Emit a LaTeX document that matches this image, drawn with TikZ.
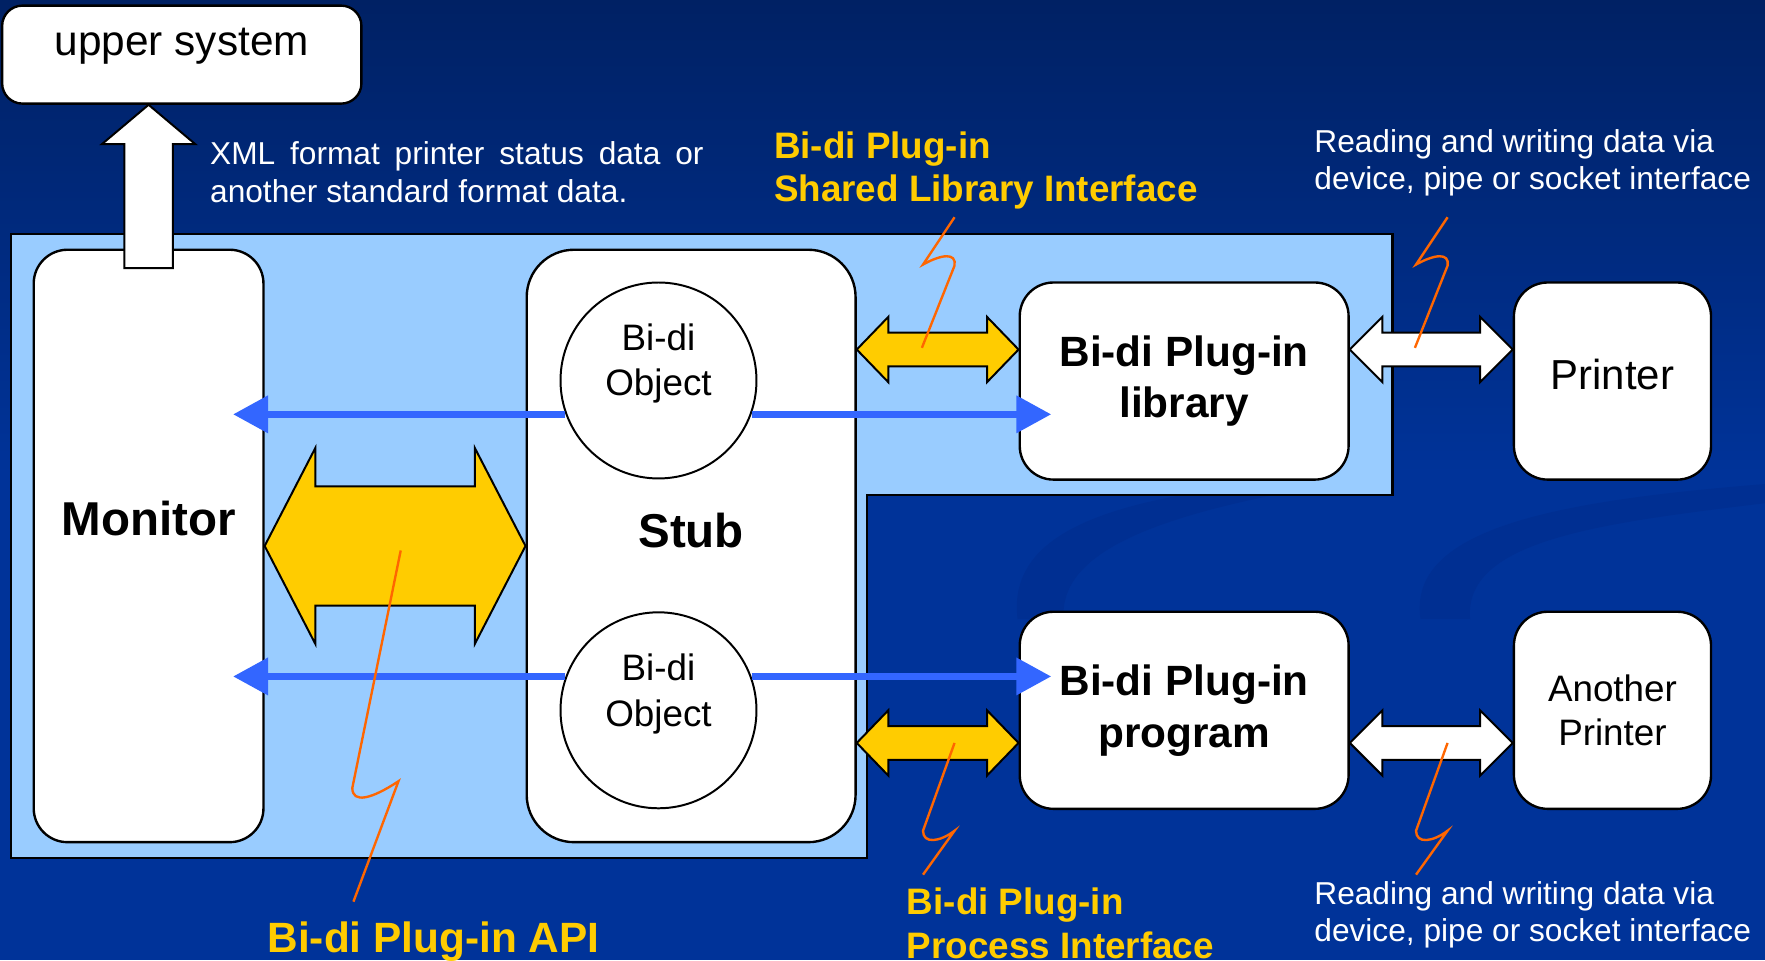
\documentclass[tikz,border=0pt]{standalone}
\usepackage{fontspec}
\setmainfont{Liberation Sans}
\usetikzlibrary{calc,arrows.meta}
\definecolor{bgtop}{RGB}{0,33,100}
\definecolor{bgbot}{RGB}{0,51,153}
\definecolor{swoosh}{RGB}{0,47,146}
\definecolor{panel}{RGB}{153,204,255}
\definecolor{gold}{RGB}{255,204,0}
\definecolor{flowblue}{RGB}{51,102,255}
\definecolor{leader}{RGB}{255,102,0}

\newcommand{\dblarrow}[6]{%
  \draw[#1] (#2) -- ($(#2)+(#4,-#5)$) -- ($(#2)+(#4,-#6)$) -- ($(#3)+(-#4,-#6)$)
    -- ($(#3)+(-#4,-#5)$) -- (#3) -- ($(#3)+(-#4,#5)$) -- ($(#3)+(-#4,#6)$)
    -- ($(#2)+(#4,#6)$) -- ($(#2)+(#4,#5)$) -- cycle;}

\begin{document}
\begin{tikzpicture}[x=0.01cm, y=-0.01cm,
    box/.style={draw=black, fill=white, line width=0.6pt, rounded corners=0.3cm, inner sep=0pt},
    obj/.style={circle, draw=black, fill=white, line width=0.5pt, minimum size=1.74cm, inner sep=0pt},
    flow/.style={draw=flowblue, line width=0.06cm, -{Triangle[length=0.31cm,width=0.32cm]}},
    goldarrow/.style={fill=gold, draw=black, line width=0.5pt},
    whitearrow/.style={fill=white, draw=black, line width=0.5pt},
    leaderline/.style={draw=leader, line width=0.6pt},
    note/.style={white, font=\fontsize{8}{9.5}\selectfont, inner sep=0pt, anchor=north west, align=left},
    tag/.style={gold, font=\bfseries\fontsize{9.3}{11}\selectfont, inner sep=0pt, anchor=north west, align=left}]
  \useasboundingbox (0,0) rectangle (1568,853);
  \clip (0,0) rectangle (1568,853);
  \shade[top color=bgtop, bottom color=bgbot] (0,0) rectangle (1568,420);
  \fill[bgbot] (0,419) rectangle (1568,853);
  \fill[swoosh] (904,550) .. controls (896,485) and (960,455) .. (1060,438) -- (1140,438)
    .. controls (1030,460) and (940,490) .. (945,550) -- cycle;
  \fill[swoosh] (1262,550) .. controls (1250,470) and (1380,445) .. (1568,430) -- (1568,447)
    .. controls (1420,465) and (1300,480) .. (1306,550) -- cycle;

  \draw[fill=panel, line width=0.6pt] (10,208) -- (1237,208) -- (1237,440) -- (770,440) -- (770,762) -- (10,762) -- cycle;

  \node[box, rounded corners=0.18cm, minimum width=3.19cm, minimum height=0.87cm,
    label={[font=\fontsize{10.7}{13}\selectfont, yshift=0.075cm]center:upper system}] (up) at (161.5,48.5) {};
  \node[box, minimum width=2.04cm, minimum height=5.26cm,
    label={[font=\bfseries\fontsize{12}{14}\selectfont, yshift=0.24cm]center:Monitor}] (mon) at (132,485) {};
  \node[box, rounded corners=0.42cm, minimum width=2.92cm, minimum height=5.26cm,
    label={[font=\bfseries\fontsize{12}{14}\selectfont, yshift=0.14cm]center:Stub}] (stub) at (614,485) {};
  \node[obj, label={[align=center, font=\fontsize{9.3}{11.4}\selectfont, yshift=0.15cm]center:Bi-di\\Object}] (obj1) at (585,338) {};
  \node[obj, label={[align=center, font=\fontsize{9.3}{11.4}\selectfont, yshift=0.145cm]center:Bi-di\\Object}] (obj2) at (585,631) {};
  \node[box, minimum width=2.92cm, minimum height=1.75cm, align=center,
    font=\bfseries\fontsize{10.7}{13.1}\selectfont] (lib) at (1052,338.5) {Bi-di Plug-in\\library};
  \node[box, minimum width=2.92cm, minimum height=1.75cm, align=center,
    font=\bfseries\fontsize{10.7}{13.1}\selectfont] (prog) at (1052,631) {Bi-di Plug-in\\program};
  \node[box, minimum width=1.75cm, minimum height=1.75cm, text depth=0.12cm,
    font=\fontsize{10.6}{13}\selectfont] (prn) at (1432.5,338.5) {Printer};
  \node[box, minimum width=1.75cm, minimum height=1.75cm, align=center,
    font=\fontsize{9.3}{11.1}\selectfont] (prn2) at (1432.5,631) {Another\\Printer};

  \draw[whitearrow] (mon.north |- up.south) -- ++(41.5,35) -- ++(-20,0) -- ++(0,110) -- ++(-43,0)
    -- ++(0,-110) -- ++(-20,0) -- cycle;

  \draw[flow, shorten >=-0.28cm] (obj1.200) -- (obj1.200 -| mon.east);
  \draw[flow, shorten >=-0.29cm] (obj1.-20) -- (obj1.-20 -| lib.west);
  \draw[flow, shorten >=-0.28cm] (obj2.160) -- (obj2.160 -| mon.east);
  \draw[flow, shorten >=-0.29cm] (obj2.20) -- (obj2.20 -| lib.west);

  \coordinate (sl) at ($(lib.west)+(0,-28)$);
  \coordinate (sl0) at (stub.east |- sl);
  \coordinate (pc) at ($(prog.west)+(0,29)$);
  \coordinate (pc0) at (stub.east |- pc);
  \coordinate (dv) at ($(lib.east)+(0,-28)$);
  \coordinate (dv1) at (prn.west |- dv);
  \coordinate (dw) at ($(prog.east)+(0,29)$);
  \coordinate (dw1) at (prn2.west |- dw);
  \dblarrow{goldarrow}{mon.east}{stub.west}{45}{87}{53}
  \dblarrow{goldarrow}{sl0}{sl}{28}{29}{15}
  \dblarrow{goldarrow}{pc0}{pc}{28}{29}{15}
  \dblarrow{whitearrow}{dv}{dv1}{29}{29}{15}
  \dblarrow{whitearrow}{dw}{dw1}{29}{29}{15}

  \draw[leaderline] (819,309) -- (848,236) .. controls (850,224) and (836,226) .. (820,235) -- (848,193);
  \draw[leaderline] (1257,309) -- (1286,236) .. controls (1288,224) and (1274,226) .. (1258,235) -- (1286,193);
  \draw[leaderline] (356,489) -- (313,700) .. controls (313,714) and (330,710) .. (354,694) -- (314,801);
  \draw[leaderline] (848,660) -- (820,738) .. controls (820,750) and (835,748) .. (848,738) -- (820,777);
  \draw[leaderline] (1286,660) -- (1258,738) .. controls (1258,750) and (1273,748) .. (1286,738) -- (1258,777);

  \node[note, text width=4.38cm, align=justify] (xmlnote) at (186,125) {XML format printer status data or another standard format data.};
  \node[tag] (shared) at (687,116) {Bi-di Plug-in\\Shared Library Interface};
  \node[note] (rw1) at (1167,114) {Reading and writing data via\\device, pipe or socket interface};
  \node[gold, font=\bfseries\fontsize{10.7}{13}\selectfont, inner sep=0pt, anchor=base west] (api) at (237,846) {Bi-di Plug-in API};
  \node[tag] (proc) at (805,788) {Bi-di Plug-in\\Process Interface};
  \node[note] (rw2) at (1167,782) {Reading and writing data via\\device, pipe or socket interface};
\end{tikzpicture}
\end{document}
